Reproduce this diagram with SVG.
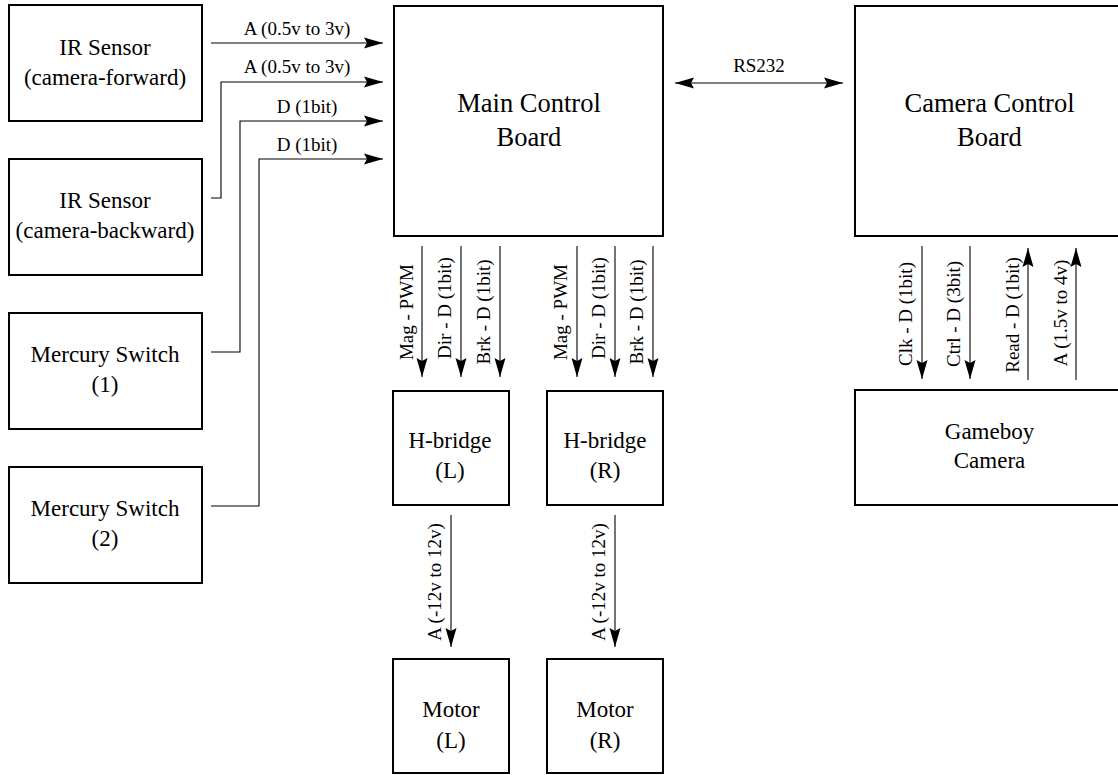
<svg xmlns="http://www.w3.org/2000/svg" width="1118" height="775" viewBox="0 0 1118 775" font-family="Liberation Serif, Times New Roman, Times, serif">
<style>
.box{fill:#fff;stroke:#000;stroke-width:2}
text{fill:#000;text-anchor:middle}
.t{font-size:23px}
.tb{font-size:26.5px}
.l{font-size:19px}
.c{fill:none;stroke:#000;stroke-width:1.1;marker-end:url(#ah)}
</style>
<defs>
<marker id="ah" markerUnits="userSpaceOnUse" markerWidth="22" markerHeight="12" viewBox="-21 -6 22 12" refX="0" refY="0" orient="auto">
<path d="M0,0 L-19,-5.5 L-16,0 L-19,5.5 Z" fill="#000"/>
</marker>
<marker id="as" markerUnits="userSpaceOnUse" markerWidth="22" markerHeight="12" viewBox="-1 -6 22 12" refX="0" refY="0" orient="auto">
<path d="M0,0 L19,-5.5 L16,0 L19,5.5 Z" fill="#000"/>
</marker>
</defs>
<rect width="1118" height="775" fill="#fff"/>

<g id="ir-forward"><rect class="box" x="9" y="5" width="193" height="116"/><text class="t" x="105" y="55">IR Sensor</text><text class="t" x="105" y="85">(camera-forward)</text></g>
<g id="ir-backward"><rect class="box" x="9" y="159" width="193" height="116"/><text class="t" x="105" y="208">IR Sensor</text><text class="t" x="105" y="238">(camera-backward)</text></g>
<g id="mercury-1"><rect class="box" x="9" y="313" width="193" height="116"/><text class="t" x="105" y="362">Mercury Switch</text><text class="t" x="105" y="392">(1)</text></g>
<g id="mercury-2"><rect class="box" x="9" y="467" width="193" height="116"/><text class="t" x="105" y="516">Mercury Switch</text><text class="t" x="105" y="546">(2)</text></g>
<g id="main-board"><rect class="box" x="394" y="6" width="269" height="230"/><text class="tb" x="529" y="112">Main Control</text><text class="tb" x="529" y="146">Board</text></g>
<g id="camera-board"><rect class="box" x="855" y="6" width="269" height="230"/><text class="tb" x="989.5" y="112">Camera Control</text><text class="tb" x="989.5" y="146">Board</text></g>
<g id="gameboy-camera"><rect class="box" x="855" y="390" width="269" height="115"/><text class="t" x="989.5" y="439">Gameboy</text><text class="t" x="989.5" y="468">Camera</text></g>
<g id="hbridge-l"><rect class="box" x="393" y="391" width="116" height="114"/><text class="t" x="450" y="448">H-bridge</text><text class="t" x="450" y="478">(L)</text></g>
<g id="hbridge-r"><rect class="box" x="547" y="391" width="116" height="114"/><text class="t" x="605" y="448">H-bridge</text><text class="t" x="605" y="478">(R)</text></g>
<g id="motor-l"><rect class="box" x="393" y="659" width="116" height="114"/><text class="t" x="451" y="717">Motor</text><text class="t" x="451" y="748">(L)</text></g>
<g id="motor-r"><rect class="box" x="547" y="659" width="116" height="114"/><text class="t" x="605" y="717">Motor</text><text class="t" x="605" y="748">(R)</text></g>

<g id="connectors">
<polyline class="c" points="211,43 383,43"/>
<polyline class="c" points="211,198 221,198 221,82 383,82"/>
<polyline class="c" points="211,352 240,352 240,121 383,121"/>
<polyline class="c" points="211,506 259,506 259,159 383,159"/>
<line class="c" x1="675" y1="83" x2="843" y2="83" marker-start="url(#as)"/>
<line class="c" x1="422" y1="246" x2="422" y2="377"/>
<line class="c" x1="461" y1="246" x2="461" y2="377"/>
<line class="c" x1="500" y1="246" x2="500" y2="377"/>
<line class="c" x1="577" y1="246" x2="577" y2="377"/>
<line class="c" x1="615" y1="246" x2="615" y2="377"/>
<line class="c" x1="653" y1="246" x2="653" y2="377"/>
<line class="c" x1="451" y1="515" x2="451" y2="647"/>
<line class="c" x1="615" y1="515" x2="615" y2="647"/>
<line class="c" x1="922" y1="246" x2="922" y2="379"/>
<line class="c" x1="970" y1="246" x2="970" y2="379"/>
<line class="c" x1="1028" y1="380" x2="1028" y2="248"/>
<line class="c" x1="1076" y1="380" x2="1076" y2="248"/>
<text class="l" x="297" y="35">A (0.5v to 3v)</text>
<text class="l" x="297" y="73">A (0.5v to 3v)</text>
<text class="l" x="307" y="113">D (1bit)</text>
<text class="l" x="307" y="151">D (1bit)</text>
<text class="l" x="759" y="72">RS232</text>
<text class="l" transform="translate(413,312) rotate(-90)">Mag - PWM</text>
<text class="l" transform="translate(451,308) rotate(-90)">Dir - D (1bit)</text>
<text class="l" transform="translate(490,312) rotate(-90)">Brk - D (1bit)</text>
<text class="l" transform="translate(567,312) rotate(-90)">Mag - PWM</text>
<text class="l" transform="translate(605,308) rotate(-90)">Dir - D (1bit)</text>
<text class="l" transform="translate(643,312) rotate(-90)">Brk - D (1bit)</text>
<text class="l" transform="translate(441,582) rotate(-90)">A (-12v to 12v)</text>
<text class="l" transform="translate(605,582) rotate(-90)">A (-12v to 12v)</text>
<text class="l" transform="translate(912,314) rotate(-90)">Clk - D (1bit)</text>
<text class="l" transform="translate(960,314) rotate(-90)">Ctrl - D (3bit)</text>
<text class="l" transform="translate(1019,315) rotate(-90)">Read - D (1bit)</text>
<text class="l" transform="translate(1067,313) rotate(-90)">A (1.5v to 4v)</text>
</g>
</svg>
